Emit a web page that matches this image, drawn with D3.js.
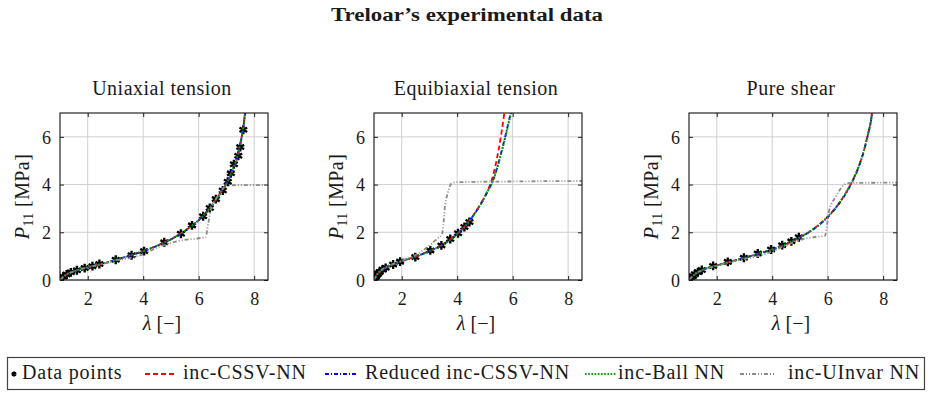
<!DOCTYPE html>
<html>
<head>
<meta charset="utf-8">
<script src="https://cdn.jsdelivr.net/npm/d3@7"></script>
<style>
  body { margin: 0; background: #fff; }
  text { font-family: "Liberation Serif", "Times New Roman", serif; fill: #1a1a1a; }
</style>
</head>
<body>
<svg id="chart" width="933" height="397"></svg>
<script>
// Treloar's experimental data [lambda, P11 in MPa]
const utData = [[1.0,0],[1.01,0.03],[1.12,0.14],[1.24,0.23],[1.39,0.32],[1.61,0.41],[1.89,0.5],[2.17,0.58],[2.42,0.67],[3.01,0.85],[3.58,1.04],[4.03,1.21],[4.76,1.58],[5.36,1.94],[5.76,2.29],[6.16,2.67],[6.4,3.02],[6.62,3.39],[6.87,3.75],[7.05,4.12],[7.16,4.47],[7.27,4.85],[7.43,5.21],[7.5,5.57],[7.61,6.3]];
const ebData = [[1.0,0],[1.04,0.09],[1.08,0.16],[1.12,0.24],[1.14,0.26],[1.2,0.33],[1.31,0.44],[1.42,0.51],[1.69,0.65],[1.94,0.77],[2.49,0.96],[3.03,1.24],[3.43,1.45],[3.75,1.72],[4.03,1.96],[4.26,2.22],[4.44,2.43]];
const psData = [[1.0,0],[1.06,0.07],[1.14,0.16],[1.21,0.24],[1.32,0.33],[1.46,0.42],[1.87,0.59],[2.4,0.76],[2.98,0.93],[3.48,1.11],[3.96,1.28],[4.36,1.46],[4.69,1.62],[4.96,1.79]];

// model predictions
const utCssv = [[1,0],[1.1,0.12],[1.25,0.24],[1.5,0.37],[1.8,0.48],[2.2,0.59],[2.6,0.7],[3,0.84],[3.5,1.02],[4,1.21],[4.5,1.44],[5,1.71],[5.4,1.98],[5.8,2.32],[6.1,2.62],[6.4,3.02],[6.65,3.42],[6.9,3.85],[7.05,4.15],[7.2,4.55],[7.35,5.0],[7.45,5.45],[7.55,6.0],[7.62,6.5],[7.67,7.0]];
const utReduced = [[1,0],[1.1,0.12],[1.25,0.24],[1.5,0.37],[1.8,0.48],[2.2,0.6],[2.6,0.71],[3,0.84],[3.5,1.02],[4,1.2],[4.5,1.43],[5,1.7],[5.4,1.97],[5.8,2.31],[6.1,2.61],[6.4,3.0],[6.65,3.4],[6.9,3.84],[7.05,4.14],[7.2,4.54],[7.35,4.99],[7.45,5.44],[7.55,5.98],[7.62,6.48],[7.68,7.0]];
const utBall = [[1,0],[1.1,0.12],[1.25,0.24],[1.5,0.37],[1.8,0.48],[2.2,0.59],[2.6,0.7],[3,0.84],[3.5,1.02],[4,1.21],[4.5,1.44],[5,1.71],[5.4,1.98],[5.8,2.32],[6.1,2.62],[6.4,3.01],[6.65,3.41],[6.9,3.85],[7.05,4.15],[7.2,4.55],[7.35,5.0],[7.45,5.45],[7.55,6.0],[7.62,6.5],[7.67,7.0]];
const utUinvar = [[1,0],[1.2,0.2],[1.5,0.36],[2,0.53],[2.5,0.67],[3,0.82],[3.5,0.92],[4,1.08],[4.5,1.36],[5,1.56],[5.5,1.68],[6,1.75],[6.25,1.8],[6.35,2.4],[6.45,3.0],[6.6,3.35],[6.8,3.72],[7.0,3.97],[8.5,3.98]];

const ebCssv = [[1,0],[1.05,0.1],[1.1,0.2],[1.2,0.33],[1.35,0.46],[1.6,0.61],[2,0.79],[2.5,0.98],[3,1.22],[3.5,1.5],[4,1.93],[4.3,2.28],[4.6,2.75],[4.9,3.3],[5.1,3.75],[5.25,4.2],[5.38,4.8],[5.5,5.5],[5.6,6.2],[5.7,7.0]];
const ebReduced = [[1,0],[1.05,0.1],[1.1,0.2],[1.2,0.33],[1.35,0.46],[1.6,0.61],[2,0.79],[2.5,0.98],[3,1.21],[3.5,1.49],[4,1.92],[4.3,2.27],[4.6,2.73],[4.9,3.28],[5.1,3.72],[5.3,4.2],[5.45,4.75],[5.6,5.4],[5.75,6.1],[5.85,6.6],[5.93,7.0]];
const ebBall = [[1,0],[1.05,0.1],[1.1,0.2],[1.2,0.33],[1.35,0.46],[1.6,0.61],[2,0.79],[2.5,0.98],[3,1.21],[3.5,1.49],[4,1.92],[4.3,2.27],[4.6,2.73],[4.9,3.28],[5.1,3.72],[5.3,4.18],[5.45,4.72],[5.6,5.35],[5.75,6.05],[5.86,6.6],[5.95,7.0]];
const ebUinvar = [[1,0],[1.1,0.22],[1.3,0.45],[1.6,0.63],[2,0.81],[2.5,1.05],[3,1.45],[3.3,1.75],[3.45,1.9],[3.5,2.3],[3.55,3.0],[3.65,3.6],[3.8,4.05],[4.0,4.1],[6,4.13],[8.5,4.15]];

const psCssv = [[1,0],[1.1,0.12],[1.25,0.27],[1.5,0.43],[2,0.61],[2.5,0.77],[3,0.93],[3.5,1.1],[4,1.28],[4.5,1.5],[5,1.79],[5.5,2.15],[6,2.65],[6.4,3.2],[6.8,3.95],[7.1,4.7],[7.3,5.4],[7.45,6.1],[7.55,6.6],[7.6,7.0]];
const psReduced = [[1,0],[1.1,0.12],[1.25,0.27],[1.5,0.43],[2,0.61],[2.5,0.77],[3,0.93],[3.5,1.1],[4,1.28],[4.5,1.5],[5,1.78],[5.5,2.14],[6,2.63],[6.4,3.18],[6.8,3.93],[7.1,4.68],[7.3,5.38],[7.45,6.08],[7.55,6.6],[7.61,7.0]];
const psBall = [[1,0],[1.1,0.12],[1.25,0.27],[1.5,0.43],[2,0.61],[2.5,0.77],[3,0.93],[3.5,1.1],[4,1.28],[4.5,1.5],[5,1.79],[5.5,2.15],[6,2.65],[6.4,3.2],[6.8,3.95],[7.1,4.7],[7.3,5.4],[7.45,6.1],[7.55,6.6],[7.6,7.0]];
const psUinvar = [[1,0],[1.2,0.24],[1.5,0.42],[2,0.6],[2.5,0.75],[3,0.88],[3.5,1.0],[4,1.2],[4.5,1.45],[5,1.68],[5.5,1.8],[5.9,1.85],[6.0,2.5],[6.05,2.9],[6.3,3.5],[6.6,4.0],[6.8,4.07],[8.5,4.08]];

const panelTitles = ['Uniaxial tension', 'Equibiaxial tension', 'Pure shear'];
const xTicks = [2, 4, 6, 8];
const yTicks = [0, 2, 4, 6];
const seriesNames = ['Data points', 'inc-CSSV-NN', 'Reduced inc-CSSV-NN', 'inc-Ball NN', 'inc-UInvar NN'];

const panels = [
  {title: panelTitles[0], data: utData, models: [utCssv, utReduced, utBall, utUinvar], left: 60},
  {title: panelTitles[1], data: ebData, models: [ebCssv, ebReduced, ebBall, ebUinvar], left: 374},
  {title: panelTitles[2], data: psData, models: [psCssv, psReduced, psBall, psUinvar], left: 689}
];

// line styles for the four models
const styles = [
  {color: '#ff0000', dash: '5,3', width: 1.8},
  {color: '#0000ff', dash: '4,2,1,2', width: 1.8},
  {color: '#009a00', dash: '1.6,1.6', width: 1.9},
  {color: '#8a8a8a', dash: '4,2,1,2,1,2', width: 1.8}
];

const FONT = '"Liberation Serif", "Times New Roman", serif';
const svg = d3.select('#chart');
const W = 208, H = 167, TOP = 113;

svg.append('text')
  .attr('x', 467).attr('y', 21)
  .attr('text-anchor', 'middle')
  .attr('textLength', 272).attr('lengthAdjust', 'spacingAndGlyphs')
  .style('font-size', '18px').style('font-weight', 'bold')
  .text('Treloar\u2019s experimental data');

const defs = svg.append('defs');
const star = d3.symbol().type(d3.symbolAsterisk).size(55);

panels.forEach((p, i) => {
  const x = d3.scaleLinear().domain([1, 8.5]).range([0, W]);
  const y = d3.scaleLinear().domain([0, 7]).range([H, 0]);
  const g = svg.append('g').attr('transform', `translate(${p.left},${TOP})`);

  defs.append('clipPath').attr('id', 'clip' + i)
    .append('rect').attr('width', W).attr('height', H);

  // grid
  g.append('g').selectAll('line').data(xTicks).enter().append('line')
    .attr('x1', d => x(d)).attr('x2', d => x(d)).attr('y1', 0).attr('y2', H)
    .attr('stroke', '#cfcfcf').attr('stroke-width', 1);
  g.append('g').selectAll('line').data(yTicks).enter().append('line')
    .attr('y1', d => y(d)).attr('y2', d => y(d)).attr('x1', 0).attr('x2', W)
    .attr('stroke', '#cfcfcf').attr('stroke-width', 1);

  // axes with inward ticks
  const fmt = d3.format('d');
  const xAxis = g.append('g').attr('transform', `translate(0,${H})`)
    .call(d3.axisBottom(x).tickValues(xTicks).tickFormat(fmt).tickSizeInner(-4).tickSizeOuter(0).tickPadding(9));
  const xTop = g.append('g')
    .call(d3.axisTop(x).tickValues(xTicks).tickSizeInner(-4).tickSizeOuter(0).tickFormat(''));
  const yAxis = g.append('g')
    .call(d3.axisLeft(y).tickValues(yTicks).tickFormat(fmt).tickSizeInner(-4).tickSizeOuter(0).tickPadding(9));
  const yRight = g.append('g').attr('transform', `translate(${W},0)`)
    .call(d3.axisRight(y).tickValues(yTicks).tickSizeInner(-4).tickSizeOuter(0).tickFormat(''));
  [xAxis, xTop, yAxis, yRight].forEach(a => {
    a.attr('font-family', FONT).attr('font-size', 18);
    a.select('.domain').remove();
    a.selectAll('line').attr('stroke', '#222');
    a.selectAll('text').attr('fill', '#1a1a1a');
  });
  xAxis.selectAll('text').attr('dy', '0.9em');
  yAxis.selectAll('text').attr('dy', '0.35em');

  // data points
  const plot = g.append('g').attr('clip-path', `url(#clip${i})`);
  plot.selectAll('path.pt').data(p.data).enter().append('path')
    .attr('class', 'pt')
    .attr('d', star)
    .attr('transform', d => `translate(${x(d[0])},${y(d[1])})`)
    .attr('fill', '#000').attr('stroke', '#000').attr('stroke-width', 2.4);

  // model curves
  const line = d3.line().x(d => x(d[0])).y(d => y(d[1])).curve(d3.curveMonotoneX);
  p.models.forEach((m, k) => {
    plot.append('path')
      .datum(m)
      .attr('d', line)
      .attr('fill', 'none')
      .attr('stroke', styles[k].color)
      .attr('stroke-width', styles[k].width)
      .attr('stroke-dasharray', styles[k].dash);
  });

  // frame
  g.append('rect').attr('width', W).attr('height', H)
    .attr('fill', 'none').attr('stroke', '#111').attr('stroke-width', 1.1);

  // titles and labels
  g.append('text').attr('x', W / 2 - 2).attr('y', -18)
    .attr('text-anchor', 'middle').style('font-size', '20px').style('letter-spacing', '0.5px')
    .text(p.title);

  g.append('text').attr('x', W / 2 - 2).attr('y', H + 50)
    .attr('text-anchor', 'middle').style('font-size', '20px')
    .html('<tspan font-style="italic">\u03bb</tspan> [\u2212]');

  const yl = g.append('text')
    .attr('transform', `translate(-31,${H / 2}) rotate(-90)`)
    .attr('text-anchor', 'middle').style('font-size', '20px').style('letter-spacing', '0.4px');
  yl.append('tspan').attr('font-style', 'italic').text('P');
  yl.append('tspan').attr('dy', 4).style('font-size', '14px').text('11');
  yl.append('tspan').attr('dy', -4).text(' [MPa]');
});

// legend
const lg = svg.append('g');
lg.append('rect').attr('x', 7.5).attr('y', 357.5).attr('width', 917).attr('height', 32)
  .attr('fill', '#fff').attr('stroke', '#444').attr('stroke-width', 1.2);

const legendX = [14, 145, 325, 585, 740];
const legendLen = [0, 31, 33, 32, 35];
const legendTextX = [22, 183, 365, 618, 788];
const ly = 374;
seriesNames.forEach((name, k) => {
  if (k === 0) {
    lg.append('path').attr('d', d3.symbol().type(d3.symbolAsterisk).size(18))
      .attr('transform', `translate(${legendX[0]},${ly})`)
      .attr('stroke', '#000').attr('stroke-width', 2);
  } else {
    const s = styles[k - 1];
    lg.append('line').attr('x1', legendX[k]).attr('x2', legendX[k] + legendLen[k])
      .attr('y1', ly).attr('y2', ly)
      .attr('stroke', s.color).attr('stroke-width', s.width).attr('stroke-dasharray', s.dash);
  }
  lg.append('text').attr('x', legendTextX[k]).attr('y', ly + 5)
    .style('font-size', '20px').style('letter-spacing', '0.8px').text(name);
});
</script>
</body>
</html>
